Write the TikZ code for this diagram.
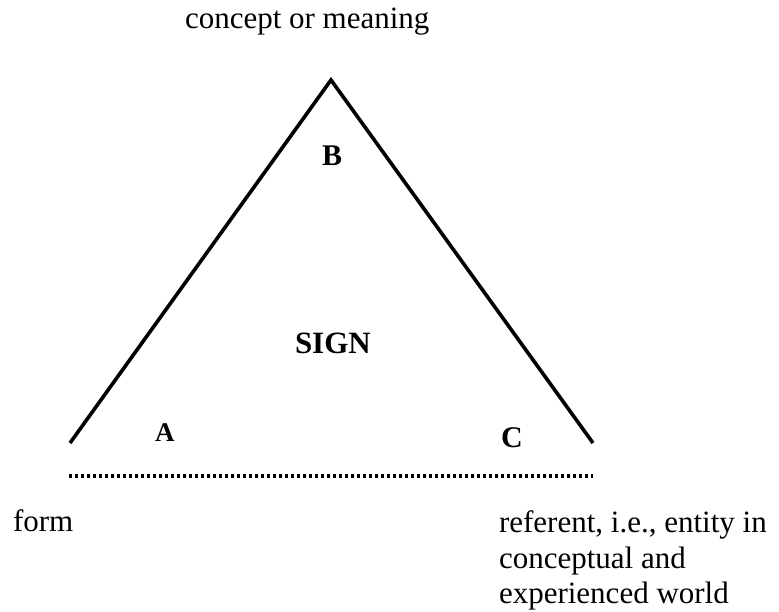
\documentclass[tikz,border=0pt]{standalone}
\usepackage{fontspec}
\setmainfont{Liberation Serif}
\begin{document}
\begin{tikzpicture}[x=1pt,y=-1pt,
  lbl/.style={inner sep=0pt, outer sep=0pt, font=\fontsize{31}{35.5}\selectfont},
  letter/.style={inner sep=0pt, outer sep=0pt, anchor=base west},
  side/.style={line width=3.6pt, line join=miter, line cap=butt},
  dots/.style={line width=3.6pt, dash pattern=on 3.4pt off 2.6pt, line cap=butt}]
\useasboundingbox (0,0) rectangle (779,611);
% triangle
\coordinate (L) at (70,443);
\coordinate (T) at (331,80);
\coordinate (R) at (593,443);
\draw[side] (L) -- (T) -- (R);
% dotted base
\coordinate (D1) at (69,476);
\coordinate (D2) at (593,476);
\draw[dots] (D1) -- (D2);
% labels
\node[lbl, anchor=base west] (concept) at (185,28) {concept or meaning};
\node[letter, font=\fontsize{30}{34}\selectfont\bfseries] (B) at (322,165) {B};
\node[lbl, anchor=base west, font=\fontsize{31}{35.5}\selectfont\bfseries] (sign) at (295,353) {SIGN};
\node[letter, font=\fontsize{27}{31}\selectfont\bfseries] (A) at (155,441) {A};
\node[letter, font=\fontsize{30}{34}\selectfont\bfseries] (C) at (501,447) {C};
\node[lbl, anchor=base west] (form) at (13,531) {form};
\node[lbl, anchor=north west, align=left] (referent) at (499,511) {referent, i.e., entity in\\conceptual and\\experienced world};
\end{tikzpicture}
\end{document}
